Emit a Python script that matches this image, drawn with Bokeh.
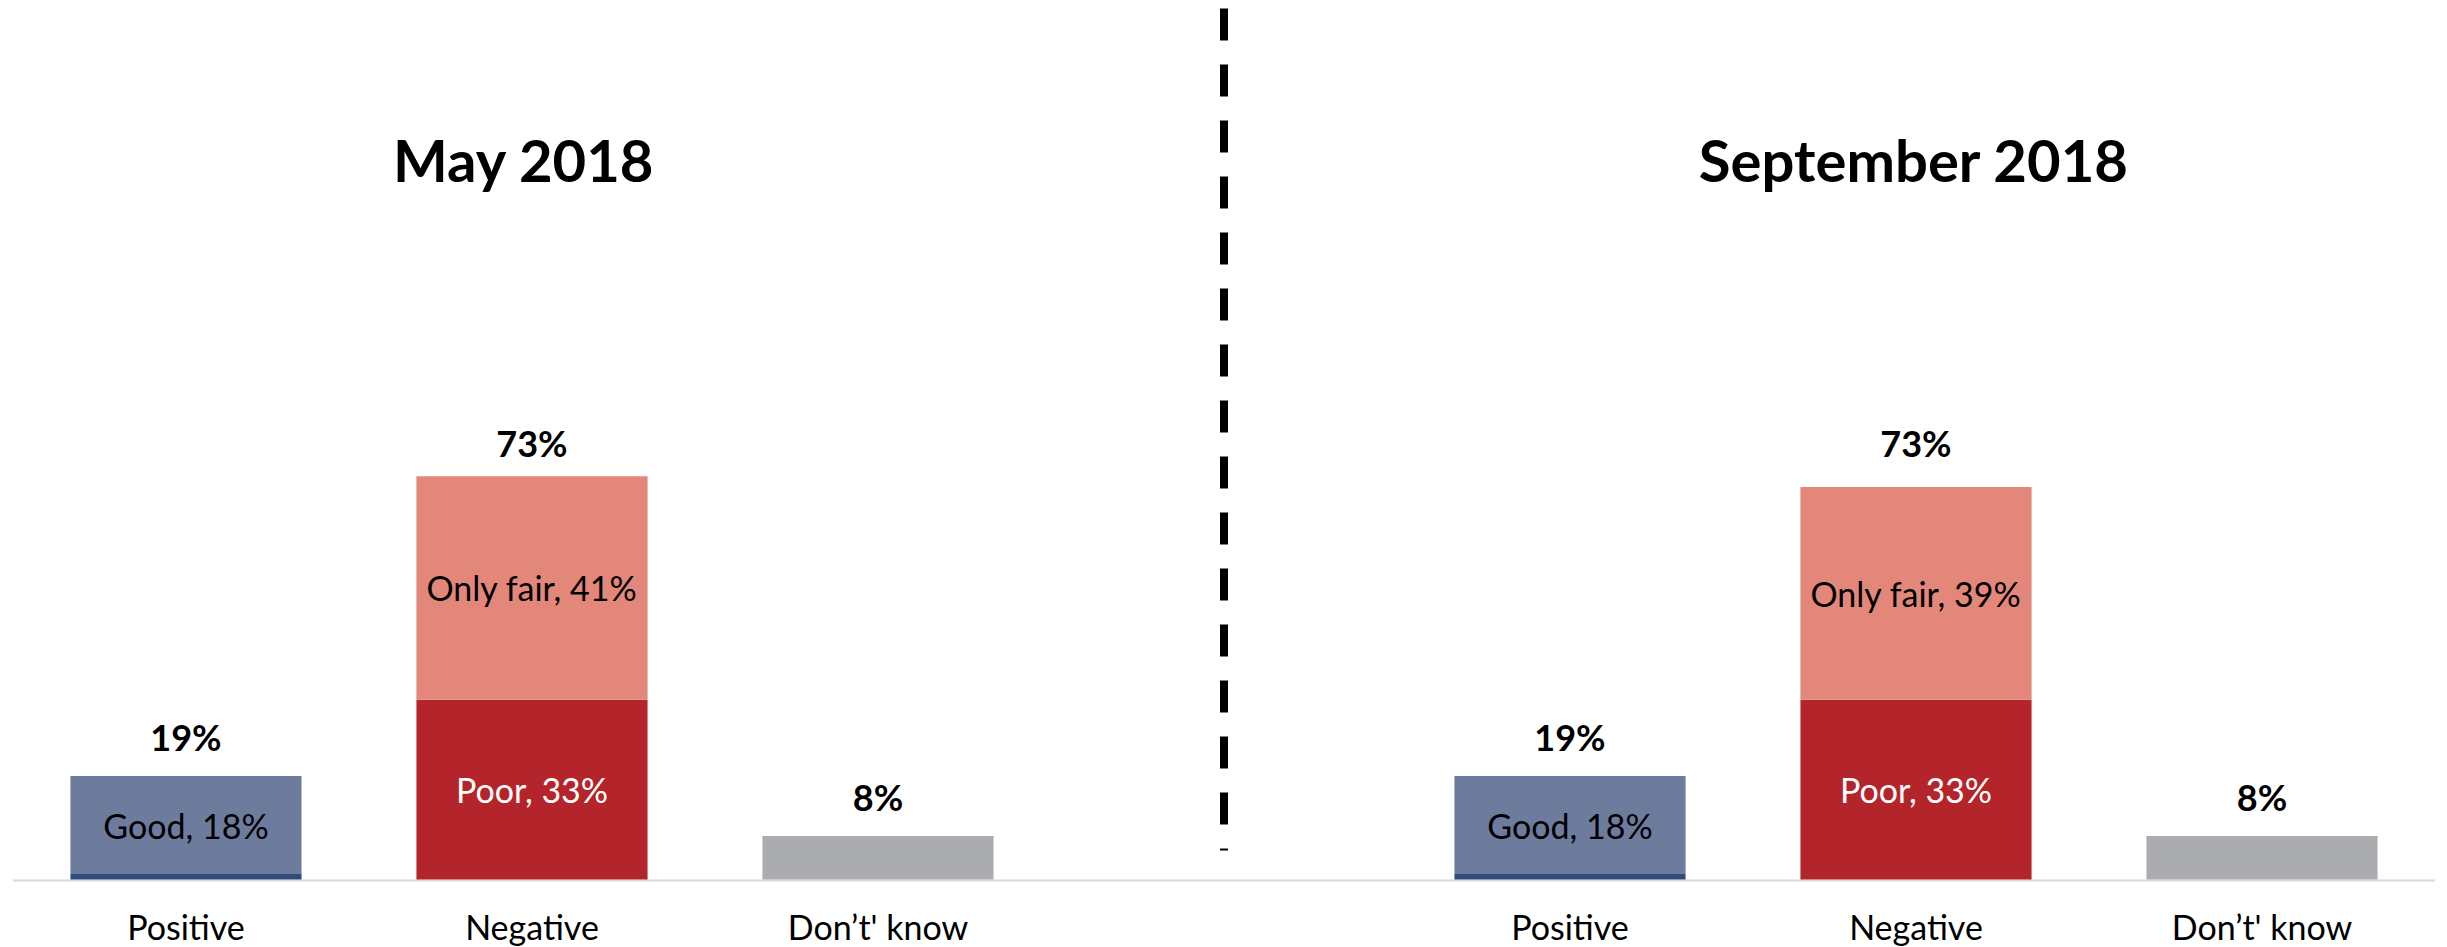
from bokeh.plotting import figure
from bokeh.models import FactorRange, Range1d, ColumnDataSource, LabelSet
from bokeh.core.properties import value
from bokeh.embed import file_html
from bokeh.resources import INLINE

# ---------------- data ----------------
groups = ["May 2018", "September 2018"]
categories = ["Positive", "Negative", "Don\u2019t' know"]

excellent = [1, 0, 0, 1, 0, 0]
good = [18, 0, 0, 18, 0, 0]
poor = [0, 33, 0, 0, 33, 0]
only_fair = [0, 41, 0, 0, 39, 0]
dont_know = [0, 0, 8, 0, 0, 8]
totals = [19, 73, 8, 19, 73, 8]

# ---------------- styling ----------------
FONT = "Lato"
C_EXC = "#2E4C7C"
C_GOOD = "#6D7B9D"
C_POOR = "#B3252B"
C_FAIR = "#E2877A"
C_DK = "#ABACB0"

PX_PER_PCT = 5.45
FIG_W, FIG_H = 2447, 947
BASE_FROM_TOP = 879
y_start = -(FIG_H - BASE_FROM_TOP) / PX_PER_PCT
y_end = BASE_FROM_TOP / PX_PER_PCT
GROUP_PAD = 1.0

factors = [(g, c) for g in groups for c in categories]

x_range = FactorRange(*factors, group_padding=GROUP_PAD, factor_padding=0.0,
                      range_padding=0.0361, range_padding_units="absolute")

p = figure(width=FIG_W, height=FIG_H, x_range=x_range,
           y_range=Range1d(y_start, y_end),
           output_backend="svg", toolbar_location=None,
           x_axis_location=None, y_axis_location=None,
           min_border=0, min_border_left=0, min_border_right=0,
           min_border_top=0, min_border_bottom=0)
p.outline_line_color = None
p.background_fill_color = "white"
p.border_fill_color = "white"
for g in p.grid:
    g.grid_line_color = None

# baseline (spans the whole category axis)
axis_end = len(factors) + GROUP_PAD
p.segment(x0=0, y0=-0.18, x1=axis_end, y1=-0.18,
          line_color="#D9D9D9", line_width=2, level="underlay")

# stacked bars
src = ColumnDataSource(dict(x=factors, excellent=excellent, good=good,
                            poor=poor, only_fair=only_fair, dont_know=dont_know))
p.vbar_stack(["excellent", "good", "poor", "only_fair", "dont_know"],
             x="x", width=0.668, source=src,
             color=[C_EXC, C_GOOD, C_POOR, C_FAIR, C_DK], line_color=None)

# divider between the two survey waves
divider_x = len(categories) + GROUP_PAD / 2
p.segment(x0=divider_x, y0=(BASE_FROM_TOP - 8) / PX_PER_PCT,
          x1=divider_x, y1=5.3,
          line_color="black", line_width=8, line_dash="32 24")

# segment labels
seg_x, seg_y, seg_t, seg_c = [], [], [], []
for i, f in enumerate(factors):
    if good[i]:
        seg_x.append(f); seg_y.append(excellent[i] + good[i] / 2)
        seg_t.append(f"Good, {good[i]}%"); seg_c.append("black")
    if poor[i]:
        seg_x.append(f); seg_y.append(poor[i] / 2)
        seg_t.append(f"Poor, {poor[i]}%"); seg_c.append("white")
    if only_fair[i]:
        seg_x.append(f); seg_y.append(poor[i] + only_fair[i] / 2)
        seg_t.append(f"Only fair, {only_fair[i]}%"); seg_c.append("black")
seg_src = ColumnDataSource(dict(x=seg_x, y=seg_y, t=seg_t, c=seg_c))
p.add_layout(LabelSet(x="x", y="y", text="t", source=seg_src,
                      text_color="c", text_font=value(FONT),
                      text_font_size="34px", text_align="center",
                      text_baseline="middle"))

# totals above bars
tot_src = ColumnDataSource(dict(x=factors, y=totals, t=[f"{v}%" for v in totals]))
p.add_layout(LabelSet(x="x", y="y", text="t", source=tot_src,
                      y_offset=25, text_font=value(FONT), text_font_size="36px",
                      text_font_style="bold", text_color="black",
                      text_align="center", text_baseline="alphabetic"))

# category labels under the baseline
cat_src = ColumnDataSource(dict(x=factors, y=[0] * len(factors),
                                t=[c for g in groups for c in categories]))
p.add_layout(LabelSet(x="x", y="y", text="t", source=cat_src,
                      y_offset=-60, text_font=value(FONT), text_font_size="34px",
                      text_color="black", text_align="center",
                      text_baseline="alphabetic"))

# wave titles
title_y = 127.9
ttl_src = ColumnDataSource(dict(x=groups, y=[title_y] * len(groups), t=groups,
                                dx=[-8, -2]))
p.add_layout(LabelSet(x="x", y="y", text="t", source=ttl_src, x_offset="dx",
                      text_font=value(FONT), text_font_size="58px",
                      text_font_style="bold", text_color="black",
                      text_align="center", text_baseline="alphabetic"))

open("out.html", "w").write(file_html(p, INLINE))
